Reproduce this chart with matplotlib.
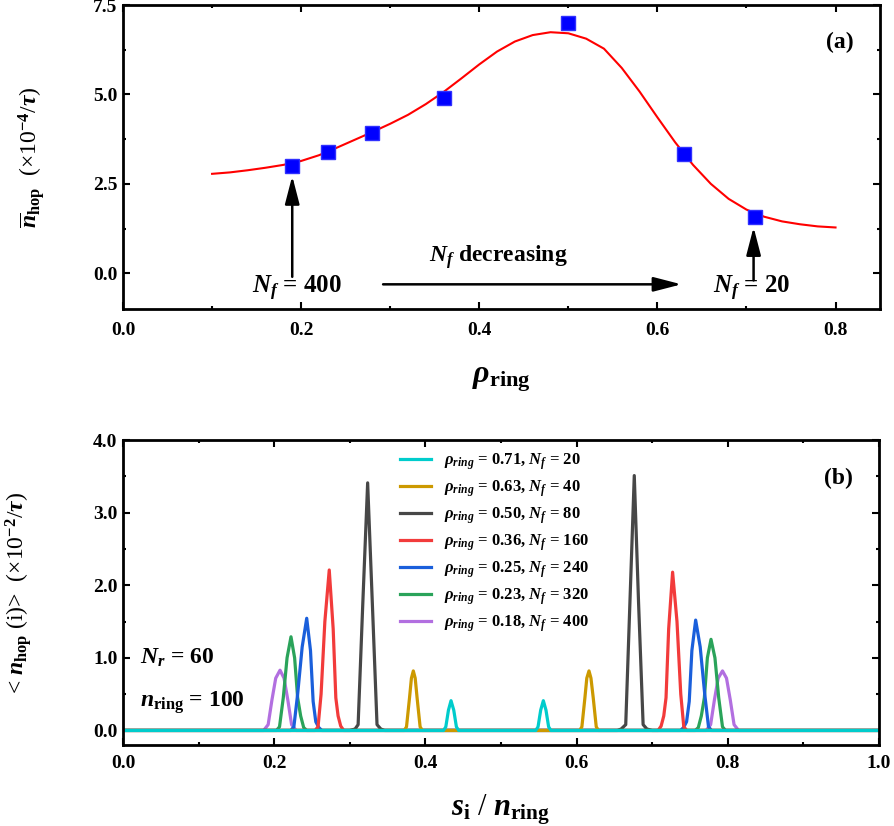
import matplotlib
matplotlib.use('Agg')
import matplotlib.pyplot as plt
from matplotlib.ticker import MultipleLocator, FormatStrFormatter

plt.rcParams['font.family'] = ['Liberation Serif', 'DejaVu Serif']
plt.rcParams['font.weight'] = 'bold'
plt.rcParams['mathtext.fontset'] = 'custom'
plt.rcParams['mathtext.rm'] = 'Liberation Serif:bold'
plt.rcParams['mathtext.it'] = 'Liberation Serif:italic:bold'
plt.rcParams['mathtext.bf'] = 'Liberation Serif:bold'

# ---------------- (a) mean hop rate vs rho_ring ----------------
rho_ring = [0.19, 0.23, 0.28, 0.36, 0.50, 0.63, 0.71]
n_hop_mean = [3.00, 3.39, 3.92, 4.90, 7.00, 3.34, 1.57]

# fitted curve
fit_x = [0.10, 0.12, 0.14, 0.16, 0.18, 0.20, 0.22, 0.24, 0.26, 0.28,
         0.30, 0.32, 0.34, 0.36, 0.38, 0.40, 0.42, 0.44, 0.46, 0.48,
         0.50, 0.52, 0.54, 0.56, 0.58, 0.60, 0.62, 0.64, 0.66, 0.68,
         0.70, 0.72, 0.74, 0.76, 0.78, 0.80]
fit_y = [2.78, 2.82, 2.88, 2.95, 3.03, 3.14, 3.30, 3.51, 3.73, 3.95,
         4.18, 4.43, 4.73, 5.07, 5.45, 5.84, 6.20, 6.48, 6.66, 6.74,
         6.71, 6.56, 6.28, 5.74, 5.08, 4.36, 3.66, 3.03, 2.50, 2.08,
         1.78, 1.58, 1.45, 1.37, 1.31, 1.28]

# ---------------- (b) hop profile along ring ----------------
labels_b = [r'$\rho_{ring}$ = 0.71, $N_f$ = 20',
            r'$\rho_{ring}$ = 0.63, $N_f$ = 40',
            r'$\rho_{ring}$ = 0.50, $N_f$ = 80',
            r'$\rho_{ring}$ = 0.36, $N_f$ = 160',
            r'$\rho_{ring}$ = 0.25, $N_f$ = 240',
            r'$\rho_{ring}$ = 0.23, $N_f$ = 320',
            r'$\rho_{ring}$ = 0.18, $N_f$ = 400']
colors_b = ['#00CCCC', '#CC9900', '#474747', '#F23B3B', '#1A5FDB', '#2AA35A', '#B26FE0']

s_nf20 = [0.0, 0.424, 0.427, 0.4305, 0.4339, 0.4375, 0.441, 0.444,
          0.546, 0.549, 0.5525, 0.556, 0.5595, 0.563, 0.566, 1.0]
h_nf20 = [0, 0, 0.05, 0.28, 0.41, 0.28, 0.05, 0,
          0, 0.05, 0.28, 0.41, 0.28, 0.05, 0, 0]

s_nf40 = [0.0, 0.372, 0.375, 0.379, 0.3815, 0.384, 0.3865, 0.389, 0.393, 0.396,
          0.604, 0.607, 0.611, 0.6135, 0.6164, 0.619, 0.622, 0.626, 0.629, 1.0]
h_nf40 = [0, 0, 0.05, 0.45, 0.72, 0.82, 0.72, 0.45, 0.05, 0,
          0, 0.05, 0.45, 0.72, 0.82, 0.72, 0.45, 0.05, 0, 0]

s_nf80 = [0.0, 0.300, 0.307, 0.311, 0.317, 0.3236, 0.330, 0.336, 0.341, 0.346,
          0.654, 0.659, 0.665, 0.6705, 0.6763, 0.682, 0.688, 0.693, 0.700, 1.0]
h_nf80 = [0, 0, 0.02, 0.08, 1.70, 3.41, 1.70, 0.08, 0.02, 0,
          0, 0.02, 0.08, 1.75, 3.51, 1.75, 0.08, 0.02, 0, 0]

s_nf160 = [0.0, 0.254, 0.258, 0.262, 0.267, 0.2728, 0.278, 0.2815, 0.2845, 0.288, 0.292,
           0.7078, 0.7118, 0.7153, 0.7183, 0.7218, 0.727, 0.7328, 0.7378, 0.7418, 0.7458, 1.0]
h_nf160 = [0, 0, 0.05, 0.50, 1.50, 2.21, 1.40, 0.45, 0.20, 0.06, 0,
           0, 0.06, 0.20, 0.45, 1.40, 2.18, 1.50, 0.50, 0.05, 0, 0]

s_nf240 = [0.0, 0.222, 0.226, 0.231, 0.237, 0.243, 0.248, 0.2515, 0.255, 0.259, 0.263,
           0.7375, 0.7415, 0.7455, 0.749, 0.7525, 0.7575, 0.7635, 0.7695, 0.7745, 0.7785, 1.0]
h_nf240 = [0, 0, 0.05, 0.50, 1.15, 1.545, 1.10, 0.40, 0.12, 0.04, 0,
           0, 0.04, 0.12, 0.40, 1.10, 1.52, 1.15, 0.50, 0.05, 0, 0]

s_nf320 = [0.0, 0.203, 0.207, 0.212, 0.217, 0.2222, 0.227, 0.231, 0.235, 0.239, 0.243,
           0.757, 0.761, 0.765, 0.769, 0.773, 0.7778, 0.783, 0.788, 0.793, 0.797, 1.0]
h_nf320 = [0, 0, 0.05, 0.45, 1.00, 1.29, 1.00, 0.45, 0.20, 0.04, 0,
           0, 0.04, 0.20, 0.45, 1.00, 1.255, 1.00, 0.45, 0.05, 0, 0]

s_nf400 = [0.0, 0.186, 0.192, 0.197, 0.202, 0.2077, 0.213, 0.218, 0.223, 0.229,
           0.7713, 0.7773, 0.7823, 0.7873, 0.793, 0.7983, 0.8033, 0.8083, 0.8143, 1.0]
h_nf400 = [0, 0, 0.08, 0.42, 0.72, 0.83, 0.72, 0.42, 0.08, 0,
           0, 0.08, 0.42, 0.72, 0.82, 0.72, 0.42, 0.08, 0, 0]

series_s = [s_nf20, s_nf40, s_nf80, s_nf160, s_nf240, s_nf320, s_nf400]
series_h = [h_nf20, h_nf40, h_nf80, h_nf160, h_nf240, h_nf320, h_nf400]


def style_axes(ax):
    for sp in ax.spines.values():
        sp.set_linewidth(2.0)
    ax.tick_params(which='both', direction='in', top=True, right=True, width=1.5)
    ax.tick_params(which='major', length=5, labelsize=14)
    ax.tick_params(which='minor', length=2.5)


fig = plt.figure(figsize=(8.94, 8.26), dpi=100)

# ----- panel (a) -----
ax1 = fig.add_axes([0.1376, 0.6259, 0.8468, 0.368])
ax1.plot(fit_x, fit_y, '-', color='#FF0000', lw=1.5, zorder=2)
ax1.plot(rho_ring, n_hop_mean, 's', color='#0000FF', ms=9.5, mec='#3030FF', zorder=3)
ax1.set_xlim(0, 0.85)
ax1.set_ylim(-1.0, 7.5)
ax1.xaxis.set_major_locator(MultipleLocator(0.2))
ax1.xaxis.set_minor_locator(MultipleLocator(0.1))
ax1.yaxis.set_major_locator(MultipleLocator(2.5))
ax1.yaxis.set_minor_locator(MultipleLocator(1.25))
ax1.xaxis.set_major_formatter(FormatStrFormatter('%.1f'))
ax1.yaxis.set_major_formatter(FormatStrFormatter('%.1f'))
style_axes(ax1)
ax1.tick_params(axis='x', which='major', pad=9)
ax1.tick_params(axis='y', which='major', pad=4)

ax1.set_xlabel(r'$\rho_{\mathrm{ring}}$', fontsize=23)
ax1.xaxis.set_label_coords(0.5, -0.185)
ax1.set_ylabel(r'$\overline{n}_{\mathrm{hop}}$  (×10$^{-4}$/$\tau$)', fontsize=17)
ax1.yaxis.set_label_coords(-0.10, 0.5)

arrow_kw = dict(arrowstyle='-|>,head_length=0.85,head_width=0.22', color='black',
                lw=1.8, mutation_scale=20, shrinkA=0, shrinkB=0)
ax1.annotate('', xy=(0.19, 2.72), xytext=(0.19, -0.1), arrowprops=arrow_kw)
ax1.annotate('', xy=(0.627, -0.31), xytext=(0.292, -0.31), arrowprops=arrow_kw)
ax1.annotate('', xy=(0.708, 1.29), xytext=(0.708, -0.2), arrowprops=arrow_kw)
ax1.text(0.1955, -0.42, r'$N_f$ = 400', fontsize=18, ha='center', va='center')
ax1.text(0.421, 0.45, r'$N_f$ decreasing', fontsize=17, ha='center', va='center')
ax1.text(0.7056, -0.42, r'$N_f$ = 20', fontsize=18, ha='center', va='center')
ax1.text(0.947, 0.878, '(a)', transform=ax1.transAxes, fontsize=17,
         ha='center', va='center')

# ----- panel (b) -----
ax2 = fig.add_axes([0.1376, 0.0981, 0.8456, 0.3692])
handles = []
for s, h, c, lab in reversed(list(zip(series_s, series_h, colors_b, labels_b))):
    ln, = ax2.plot(s, h, '-', color=c, lw=2.3, label=lab)
    handles.append(ln)
handles = handles[::-1]
ax2.set_xlim(0, 1.0)
ax2.set_ylim(-0.2, 4.0)
ax2.xaxis.set_major_locator(MultipleLocator(0.2))
ax2.xaxis.set_minor_locator(MultipleLocator(0.1))
ax2.yaxis.set_major_locator(MultipleLocator(1.0))
ax2.yaxis.set_minor_locator(MultipleLocator(0.5))
ax2.xaxis.set_major_formatter(FormatStrFormatter('%.1f'))
ax2.yaxis.set_major_formatter(FormatStrFormatter('%.1f'))
style_axes(ax2)
ax2.tick_params(axis='x', which='major', pad=7)
ax2.tick_params(axis='y', which='major', pad=4)

leg = ax2.legend(handles=handles, loc='upper left', bbox_to_anchor=(0.366, 0.962),
                 frameon=False, fontsize=12, handlelength=1.9, handletextpad=0.75,
                 labelspacing=0.38, borderpad=0, borderaxespad=0)

ax2.set_xlabel(r'$s_{\mathrm{i}}$ / $n_{\mathrm{ring}}$', fontsize=22)
ax2.xaxis.set_label_coords(0.5, -0.155)
ax2.set_ylabel(r'< $n_{\mathrm{hop}}$ (i)>  (×10$^{-2}$/$\tau$)', fontsize=17)
ax2.yaxis.set_label_coords(-0.118, 0.5)

ax2.text(0.022, 0.285, r'$N_r$ = 60', transform=ax2.transAxes, fontsize=17,
         ha='left', va='center')
ax2.text(0.022, 0.14, r'$n_{\mathrm{ring}}$ = 100', transform=ax2.transAxes, fontsize=17,
         ha='left', va='center')
ax2.text(0.947, 0.875, '(b)', transform=ax2.transAxes, fontsize=17,
         ha='center', va='center')

plt.savefig('out.png', dpi=100)
plt.close()
